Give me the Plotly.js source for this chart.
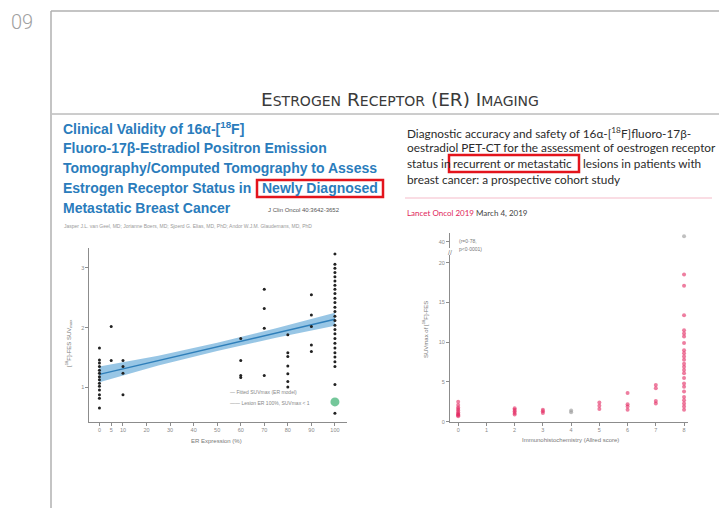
<!DOCTYPE html>
<html>
<head>
<meta charset="utf-8">
<script src="https://cdn.plot.ly/plotly-3.0.1.min.js"></script>
<style>html,body{margin:0;padding:0;background:#fff;}#chart{width:719px;height:508px;}</style>
</head>
<body>
<div id="chart"></div>
<script>
// ---------- Data: left study (JCO) ----------
const erExpression = [
  0,0,0,0,0,0,0,0,0,0,0,0,0,0,
  5,5,
  10,10,10,10,
  60,60,60,60,
  70,70,70,70,
  80,80,80,80,80,80,80,
  90,90,90,90,90,
  100,100,100,100,100,100,100,100,100,100,100,100,100,100,100,100,100,100,100,100,100,100,100,100,100,100,100
];
const fesSuvLeft = [
  1.66,1.46,1.41,1.35,1.29,1.24,1.18,1.13,1.07,1.02,0.96,0.88,0.82,0.66,
  2.02,1.45,
  1.45,1.35,1.24,0.88,
  1.82,1.45,1.20,1.17,
  2.64,2.32,1.99,1.20,
  1.88,1.58,1.52,1.36,1.23,1.10,1.01,
  2.55,2.21,2.02,1.71,1.60,
  3.23,3.06,2.99,2.92,2.85,2.78,2.71,2.64,2.57,2.49,2.42,2.34,2.27,2.19,2.12,2.04,1.97,1.90,1.82,1.74,1.66,1.58,1.51,1.43,1.35,1.05,0.57
];
const highlightX = [100];
const highlightY = [0.76];
const fitX = [0, 25, 50, 75, 100];
const fitY = [1.22, 1.45, 1.68, 1.91, 2.14];
const fitUpper = [1.35, 1.53, 1.75, 1.99, 2.25];
const fitLower = [1.09, 1.37, 1.61, 1.83, 2.03];
const erTicks = [0, 5, 10, 20, 30, 40, 50, 60, 70, 80, 90, 100];
const suvTicksLeft = [1, 2, 3];

// ---------- Data: right study (Lancet Oncol) ----------
const allredScore = [
  0,0,0,0,0,0,0,0,0,0,
  2,2,2,2,2,
  3,3,3,
  5,5,5,
  6,6,6,6,
  7,7,7,7,
  8,8,8,8,8,8,8,8,8,8,8,8,8,8,8,8,8,8,8,8,8,8,8,8
];
const fesSuvRight = [
  2.5,2.1,1.8,1.6,1.4,1.2,1.0,0.9,0.8,0.7,
  1.7,1.5,1.3,1.1,0.9,
  1.5,1.3,1.1,
  2.4,2.0,1.6,
  3.6,2.2,1.9,1.5,
  4.6,4.2,2.6,2.3,
  18.5,17.1,13.4,11.5,11.1,10.7,9.9,9.0,8.6,8.2,7.8,7.3,6.9,6.5,6.1,5.5,4.8,4.4,3.8,3.1,2.7,2.3,1.9,1.5
];
const greyAllred = [4, 4];
const greySuv = [1.4, 1.2];
const highAllred = [8];
const highSuv = [42.5];
const allredTicks = [0,1,2,3,4,5,6,7,8];
const suvTicksRight = [0,5,10,15,20];
const suvTicksRightHigh = [40];

// ---------- helpers (pixel -> paper) ----------
const W = 719, H = 508;
const PX = x => x / W;
const PY = y => 1 - y / H;

const tickFont = {family: 'Liberation Sans, Arial, sans-serif', size: 5.5, color: '#8a8a8a'};

const traces = [
  {x: fitX, y: fitLower, xaxis: 'x', yaxis: 'y', mode: 'lines', line: {width: 0, color: 'rgba(0,0,0,0)'}, hoverinfo: 'skip'},
  {x: fitX, y: fitUpper, xaxis: 'x', yaxis: 'y', mode: 'lines', fill: 'tonexty', fillcolor: 'rgba(84,160,212,0.6)', line: {width: 0, color: 'rgba(0,0,0,0)'}, hoverinfo: 'skip'},
  {x: fitX, y: fitY, xaxis: 'x', yaxis: 'y', mode: 'lines', line: {width: 1.5, color: '#2f7fba'}},
  {x: erExpression, y: fesSuvLeft, xaxis: 'x', yaxis: 'y', mode: 'markers', marker: {size: 3, color: '#222'}},
  {x: highlightX, y: highlightY, xaxis: 'x', yaxis: 'y', mode: 'markers', marker: {size: 9, color: 'rgba(70,180,120,0.75)'}},
  {x: allredScore, y: fesSuvRight, xaxis: 'x2', yaxis: 'y2', mode: 'markers', marker: {size: 4, color: 'rgba(226,40,96,0.6)'}},
  {x: greyAllred, y: greySuv, xaxis: 'x2', yaxis: 'y2', mode: 'markers', marker: {size: 4, color: 'rgba(150,150,150,0.6)'}},
  {x: highAllred, y: highSuv, xaxis: 'x2', yaxis: 'y3', mode: 'markers', marker: {size: 4, color: 'rgba(150,150,150,0.6)'}}
];

const axisCommon = {
  showgrid: false, zeroline: false, showline: true, linecolor: '#8c8c8c', linewidth: 1,
  ticks: 'outside', ticklen: 3, tickcolor: '#8c8c8c', tickfont: tickFont, fixedrange: true
};

const annotations = [];
function txt(x, y, text, size, color, opts) {
  annotations.push(Object.assign({
    xref: 'paper', yref: 'paper', x: PX(x), y: PY(y), text: text, showarrow: false,
    xanchor: 'left', yanchor: 'middle',
    font: {family: 'Liberation Sans, Arial, sans-serif', size: size, color: color}
  }, opts || {}));
}

// page number
txt(9, 22, '09', 20, '#9a9a9a', {font: {family: 'Roboto, sans-serif', size: 20, color: '#a0a0a0', weight: 300}});
// slide title (small caps)
const sc = 'font-size:14px';
txt(400, 100, 'E<span style="' + sc + '">STROGEN</span> R<span style="' + sc + '">ECEPTOR</span> (ER) I<span style="' + sc + '">MAGING</span>', 18.5, '#3a3a3a',
  {xanchor: 'center', font: {family: 'DejaVu Sans, sans-serif', size: 18.5, color: '#3a3a3a'}});

// left article title
const blue = '#2a7cbc';
const bsz = 14;
const bf = {family: 'Liberation Sans, Arial, sans-serif', size: bsz, color: blue, weight: 'bold'};
txt(61, 128, 'Clinical Validity of 16α-[<sup>18</sup>F]', bsz, blue, {font: bf});
txt(61, 148, 'Fluoro-17β-Estradiol Positron Emission', bsz, blue, {font: bf});
txt(61, 168, 'Tomography/Computed Tomography to Assess', bsz, blue, {font: bf});
txt(61, 188, 'Estrogen Receptor Status in', bsz, blue, {font: bf});
txt(260, 188, 'Newly Diagnosed', bsz, blue, {font: bf});
txt(61, 208, 'Metastatic Breast Cancer', bsz, blue, {font: bf});
txt(266, 210, 'J Clin Oncol 40:3642-3652', 6, '#555');
txt(62, 226, 'Jasper J.L. van Geel, MD; Jorianne Boers, MD; Sjoerd G. Elias, MD, PhD; Andor W.J.M. Glaudemans, MD, PhD', 5, '#999');

// right article title
const df = {family: 'Lato, sans-serif', size: 11.8, color: '#2b2b2b'};
txt(405, 133, 'Diagnostic accuracy and safety of 16α-[<sup>18</sup>F]fluoro-17β-', 11.8, '#2b2b2b', {font: df});
txt(405, 148, 'oestradiol PET-CT for the assessment of oestrogen receptor', 11.8, '#2b2b2b', {font: df});
txt(405, 163, 'status in', 11.8, '#2b2b2b', {font: df});
txt(451, 163, 'recurrent or metastatic', 11.8, '#2b2b2b', {font: df});
txt(581, 163, 'lesions in patients with', 11.8, '#2b2b2b', {font: df});
txt(405, 179, 'breast cancer: a prospective cohort study', 11.8, '#2b2b2b', {font: df});
txt(405, 213, '<span style="color:#e0245a">Lancet Oncol 2019</span> March 4, 2019', 8, '#444', {font: {family: 'Lato, sans-serif', size: 8, color: '#444'}});

// axis titles
txt(216, 441, 'ER Expression (%)', 6, '#777', {xanchor: 'center'});
txt(68, 343, '[<sup>18</sup>F]-FES SUV<sub>max</sub>', 6, '#777', {xanchor: 'center', textangle: -90});
txt(570, 440, 'Immunohistochemistry (Allred score)', 6, '#777', {xanchor: 'center'});
txt(425, 330, 'SUVmax of [<sup>18</sup>F]-FES', 6, '#777', {xanchor: 'center', textangle: -90});

// legends / stats
txt(228, 392, '— Fitted SUVmax (ER model)', 5, '#888');
txt(228, 403, '—— Lesion ER 100%, SUVmax &lt; 1', 5, '#888');
txt(457, 241, '(r=0·78,', 5, '#777');
txt(457, 249, 'p<0·0001)', 5, '#777');
txt(450, 252, '//', 7, '#777', {xanchor: 'center'});

const shapes = [
  // slide frame
  {type: 'line', xref: 'paper', yref: 'paper', x0: PX(51), x1: PX(719), y0: PY(11), y1: PY(11), line: {color: '#b0b0b0', width: 1.5}},
  {type: 'line', xref: 'paper', yref: 'paper', x0: PX(51), x1: PX(51), y0: PY(11), y1: PY(508), line: {color: '#b0b0b0', width: 1.5}},
  // title underline
  {type: 'line', xref: 'paper', yref: 'paper', x0: PX(52), x1: PX(719), y0: PY(114), y1: PY(114), line: {color: '#9a9a9a', width: 1}},
  // red highlight boxes
  {type: 'rect', xref: 'paper', yref: 'paper', x0: PX(257), x1: PX(383), y0: PY(180), y1: PY(197), line: {color: '#e3141c', width: 2.5}},
  {type: 'rect', xref: 'paper', yref: 'paper', x0: PX(449), x1: PX(579), y0: PY(155), y1: PY(172), line: {color: '#e3141c', width: 2.5}},
  // pink rule under right title
  {type: 'line', xref: 'paper', yref: 'paper', x0: PX(405), x1: PX(712), y0: PY(198), y1: PY(198), line: {color: 'rgba(225,60,100,0.35)', width: 1}}
];

const layout = {
  width: W, height: H, margin: {l: 0, r: 0, t: 0, b: 0},
  paper_bgcolor: '#fff', plot_bgcolor: 'rgba(0,0,0,0)', showlegend: false,
  xaxis: Object.assign({}, axisCommon, {domain: [PX(89.3), PX(346.7)], range: [-4.3, 105], tickvals: erTicks, anchor: 'y'}),
  yaxis: Object.assign({}, axisCommon, {domain: [PY(421.7), PY(248)], range: [0.43, 3.33], tickvals: suvTicksLeft, anchor: 'x'}),
  xaxis2: Object.assign({}, axisCommon, {domain: [PX(450), PX(688)], range: [-0.29, 8.14], tickvals: allredTicks, anchor: 'y2'}),
  yaxis2: Object.assign({}, axisCommon, {domain: [PY(421.7), PY(254.7)], range: [0, 21], tickvals: suvTicksRight, anchor: 'x2'}),
  yaxis3: Object.assign({}, axisCommon, {domain: [PY(248), PY(233)], range: [37, 44], tickvals: suvTicksRightHigh, anchor: 'x2'}),
  annotations: annotations,
  shapes: shapes
};

Plotly.newPlot('chart', traces, layout, {displayModeBar: false, staticPlot: true});
</script>
</body>
</html>
